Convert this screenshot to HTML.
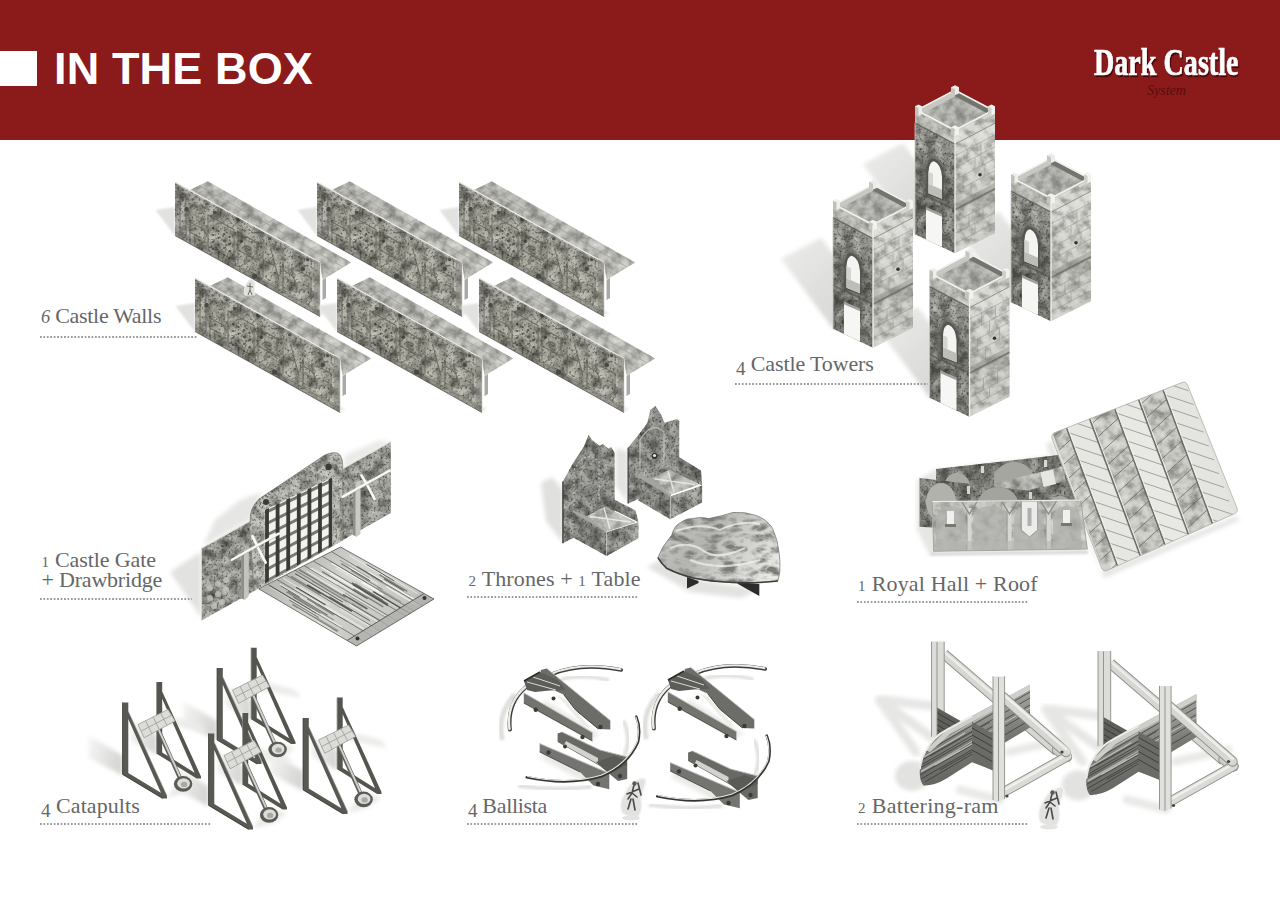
<!DOCTYPE html>
<html lang="en"><head><meta charset="utf-8"><title>In the Box - Dark Castle System</title>
<style>
html,body{margin:0;padding:0;background:#fff;}
body{width:1280px;height:905px;position:relative;overflow:hidden;font-family:"Liberation Serif",serif;}
#hdr{position:absolute;left:0;top:0;width:1280px;height:140px;background:#8b1a1a;}
#sq{position:absolute;left:0;top:51px;width:37px;height:35px;background:#fff;}
#ttl{position:absolute;left:54px;top:44px;font-family:"Liberation Sans",sans-serif;font-weight:bold;font-size:45px;line-height:50px;color:#fff;letter-spacing:0.15px;white-space:nowrap;}
#logo{position:absolute;left:1094px;top:40px;font-family:"Liberation Serif",serif;font-weight:bold;font-size:38px;line-height:44px;color:#fff;white-space:nowrap;text-shadow:1.5px 2px 1px #3a0808;-webkit-text-stroke:0.7px #fff;transform-origin:0 0;transform:scaleX(0.74);}
#sys{position:absolute;left:1147px;top:83px;font-family:"Liberation Serif",serif;font-style:italic;font-size:14px;line-height:16px;color:#560e0e;white-space:nowrap;}
.lab{position:absolute;font-size:22px;line-height:26px;color:#666;white-space:nowrap;}
.d1,.d2{font-size:15px;letter-spacing:0.5px;}
.d4{font-size:19px;position:relative;top:4px;}
.d6{font-size:18.5px;font-style:italic;}
.dots{position:absolute;height:2px;background-image:radial-gradient(circle at 1px 1px,#9a9a9a 0.8px,rgba(154,154,154,0) 1.1px);background-size:3.45px 2px;background-repeat:repeat-x;}
#art{position:absolute;left:0;top:0;}
</style></head><body>
<div id="hdr"></div>
<div id="sq"></div>
<div id="ttl">IN THE BOX</div>
<div id="logo">Dark Castle</div>
<div id="sys">System</div>
<svg id="art" width="1280" height="905" viewBox="0 0 1280 905">
<defs>
<filter id="stone" x="0" y="0" width="100%" height="100%" color-interpolation-filters="sRGB">
<feTurbulence type="fractalNoise" baseFrequency="0.1" numOctaves="3" seed="3" result="n"/>
<feColorMatrix in="n" type="matrix" values="0 0 0 0 0.2  0 0 0 0 0.2  0 0 0 0 0.18  1.7 0 0 0 -0.72" result="dk"/>
<feColorMatrix in="n" type="matrix" values="0 0 0 0 0.86  0 0 0 0 0.86  0 0 0 0 0.83  -1.7 0 0 0 0.72" result="lt"/>
<feTurbulence type="fractalNoise" baseFrequency="0.42" numOctaves="2" seed="9" result="n2"/>
<feColorMatrix in="n2" type="matrix" values="0 0 0 0 0.16  0 0 0 0 0.16  0 0 0 0 0.14  2.0 0 0 0 -1.02" result="dk2"/>
<feMerge result="m"><feMergeNode in="dk"/><feMergeNode in="lt"/><feMergeNode in="dk2"/></feMerge>
<feComposite in="m" in2="SourceAlpha" operator="in" result="mm"/>
<feMerge><feMergeNode in="SourceGraphic"/><feMergeNode in="mm"/></feMerge>
</filter>
<filter id="stoneL" x="0" y="0" width="100%" height="100%" color-interpolation-filters="sRGB">
<feTurbulence type="fractalNoise" baseFrequency="0.1" numOctaves="4" seed="7" result="n"/>
<feColorMatrix in="n" type="matrix" values="0 0 0 0 0.35  0 0 0 0 0.35  0 0 0 0 0.33  1.6 0 0 0 -0.72" result="dk"/>
<feColorMatrix in="n" type="matrix" values="0 0 0 0 0.95  0 0 0 0 0.95  0 0 0 0 0.93  -1.8 0 0 0 0.78" result="lt"/>
<feMerge result="m"><feMergeNode in="dk"/><feMergeNode in="lt"/></feMerge>
<feComposite in="m" in2="SourceAlpha" operator="in" result="mm"/>
<feMerge><feMergeNode in="SourceGraphic"/><feMergeNode in="mm"/></feMerge>
</filter>
<filter id="blur2"><feGaussianBlur stdDeviation="2"/></filter>
<filter id="blur1"><feGaussianBlur stdDeviation="1"/></filter>
<filter id="blur4"><feGaussianBlur stdDeviation="4"/></filter>

<linearGradient id="gWallF" x1="0" y1="0" x2="1" y2="0.6">
<stop offset="0" stop-color="#b0b0a6"/><stop offset="0.5" stop-color="#a6a69c"/><stop offset="1" stop-color="#b2b2a8"/>
</linearGradient>
<clipPath id="cWallF"><polygon points="0,0 145,80.5 145,134.5 0,53.5"/></clipPath>
<g id="wall">
<polygon points="-19.5,28 0,25 0,54 " fill="#e2e2e0" filter="url(#blur1)"/>
<polygon points="0,53.5 145,134 150,131 8,52" fill="#e9e9e7" filter="url(#blur1)"/>
<polygon points="147.5,98 151,96 151,116 147.5,118" fill="#a9a9a5"/>
<polygon points="15,8 32.7,-0.7 176.3,80.5 147.5,97.7 145,80.5" fill="#bdbdb8" filter="url(#stoneL)"/>
<g stroke="#9c9c98" stroke-width="0.7" fill="none">
<path d="M50,9 L33,18 M75,23 L58,32 M100,37 L83,46 M125,51 L108,60 M150,65.5 L133,74.5 M24,3.5 L168,85"/>
</g>
<polygon points="0,0 145,80.5 145,134.5 0,53.5" fill="url(#gWallF)" filter="url(#stone)"/>
<g fill="none" stroke="#5c5c54" stroke-width="1.1" opacity="0.7" clip-path="url(#cWallF)">
<path d="M5,10 L5,50 L11,53.5 L11,13.5 Z M15,40 L15,62 M15,40 L30,48 L30,58 M15,50 L26,56 M33,33 L33,64 L59,78.5 L59,47.5 Z M63,50 L63,82 M63,50 L82,60.5 L82,78 L63,68 M70,63 L76,66 L76,72 L70,69 Z M88,70 L88,96 M88,78 L100,84 M96,68 L104,98 M108,80 L108,108 M108,88 L120,95 M116,86 L122,108 M126,90 L136,95.5 L136,118 M128,102 L134,105"/>
<path d="M2,4 L143,82.5 M2,51 L143,129" stroke-width="0.8" opacity="0.6"/>
</g>
<g fill="#3c3c38" opacity="0.8">
<circle cx="11.6" cy="27" r="2.3"/><circle cx="39.8" cy="30.3" r="1.6"/><circle cx="63" cy="37.8" r="1.7"/><circle cx="94.5" cy="56.8" r="1.5"/><circle cx="127.7" cy="86.7" r="2.2"/><circle cx="79.6" cy="94" r="2.6"/><circle cx="132.6" cy="77.6" r="1.6"/><circle cx="66.3" cy="59.3" r="1.8"/>
<circle cx="38" cy="46" r="1.1"/><circle cx="43.5" cy="49" r="1.1"/><circle cx="49" cy="52" r="1.1"/><circle cx="54.5" cy="55" r="1.1"/><circle cx="38" cy="53" r="1.1"/><circle cx="43.5" cy="56" r="1.1"/><circle cx="49" cy="59" r="1.1"/><circle cx="54.5" cy="62" r="1.1"/><circle cx="38" cy="60" r="1.1"/><circle cx="43.5" cy="63" r="1.1"/><circle cx="49" cy="66" r="1.1"/><circle cx="54.5" cy="69" r="1.1"/><circle cx="38" cy="67" r="1.1"/><circle cx="43.5" cy="70" r="1.1"/><circle cx="49" cy="73" r="1.1"/><circle cx="54.5" cy="76" r="1.1"/>
</g>
<polygon points="0,47 145,128 145,134.5 0,53.5" fill="#4a4a44" opacity="0.25"/>
<path d="M0,0 L145,80.5" stroke="#e8e8e4" stroke-width="1.4" fill="none"/>
<path d="M0,53.5 L145,134.5" stroke="#55554f" stroke-width="1" fill="none" opacity="0.7"/>
<path d="M145,80.5 L145,134.5" stroke="#d8d8d4" stroke-width="0.8" fill="none"/>
<polygon points="139,77.2 145,80.5 145,134.5 139,131.2" fill="#8a8a82" opacity="0.5"/>
</g>

<linearGradient id="gTwL" x1="0" y1="0" x2="0" y2="1">
<stop offset="0" stop-color="#a6a6a0"/><stop offset="0.35" stop-color="#8c8c86"/><stop offset="0.62" stop-color="#7c7c76"/><stop offset="1" stop-color="#90908a"/>
</linearGradient>
<linearGradient id="gTwR" x1="0" y1="0" x2="0" y2="1">
<stop offset="0" stop-color="#dededa"/><stop offset="0.5" stop-color="#cecec9"/><stop offset="0.6" stop-color="#b4b4af"/><stop offset="0.66" stop-color="#c6c6c1"/><stop offset="1" stop-color="#d0d0cb"/>
</linearGradient>
<linearGradient id="gTwSh" x1="1" y1="1" x2="0" y2="0">
<stop offset="0" stop-color="#d2d2d0"/><stop offset="1" stop-color="#ececea"/>
</linearGradient>
<g id="towerSh"><polygon points="-40,90.5 -92,20.5 -52,-0.5 0,69.5" fill="url(#gTwSh)" filter="url(#blur2)"/></g>
<g id="tower">
<polygon points="-39.6,-33 0,-54 39.6,-33 39.6,89 0,109 -39.6,90" fill="#b8b8b2"/>
<!-- left face -->
<polygon points="-40,-21 0,0 0,109.5 -40,90.5" fill="url(#gTwL)" filter="url(#stone)"/>
<!-- right face -->
<polygon points="0,0 40,-21 40,89.5 0,109.5" fill="url(#gTwR)" filter="url(#stoneL)"/>
<g stroke="#8a8a86" stroke-width="0.6" opacity="0.8" fill="none">
<path d="M0,12 L40,-9 M0,24 L40,3 M0,36 L40,15 M0,48 L40,27 M0,78 L40,57 M0,90 L40,69 M0,100 L40,79"/>
<path d="M12,6 L12,18 M26,-2 L26,10 M20,14 L20,26 M8,32 L8,44 M30,20 L30,32 M16,40 L16,52 M14,71 L14,83 M28,64 L28,76 M20,80 L20,90"/>
</g>
<path d="M-40,47 L0,66 L40,45" stroke="#55554f" stroke-width="1.6" fill="none" opacity="0.7"/>
<polygon points="0,60 40,39 40,47 0,68" fill="#77776f" opacity="0.35"/>
<circle cx="25" cy="31" r="1.8" fill="#333"/>
<!-- arch window -->
<path d="M-31,50 L-31,26 Q-30,12 -21.5,11.5 Q-11,15 -9.5,32 L-9.5,58 Z" fill="#4a4a44" opacity="0.45" filter="url(#blur1)"/>
<path d="M-28.5,50 L-28.5,27 Q-28,15.5 -21.5,14.5 Q-13,17 -11.5,32 L-11.5,56.5 Z" fill="#55554f"/>
<path d="M-26.5,49.5 L-26.5,28 Q-26,18 -21,17.5 Q-14,20 -13,33 L-13,55 Z" fill="#f4f4f2"/>
<polygon points="-26.5,40 -13,46 -13,55 -26.5,49.5" fill="#bdbdb9"/>
<polygon points="-26.5,28 -22,30 -22,42 -26.5,40" fill="#d4d4d0"/>
<!-- door -->
<polygon points="-29,63.5 -13,70.5 -13,103.3 -29,95.7" fill="#f6f6f4"/>
<polygon points="-29,63.5 -13,70.5 -13,73 -29,66" fill="#66665f" opacity="0.6"/>
<!-- parapet sides -->
<polygon points="-40,-33 0,-12 0,1 -40,-20" fill="#c6c6c0" filter="url(#stoneL)"/>
<polygon points="0,-12 40,-33 40,-20 0,1" fill="#d6d6d1" filter="url(#stoneL)"/>
<path d="M-40,-20.5 L0,0.5" stroke="#4e4e48" stroke-width="1.3" fill="none" opacity="0.75"/>
<path d="M0,0.5 L40,-20.5" stroke="#77776f" stroke-width="1" fill="none" opacity="0.7"/>
<!-- top -->
<polygon points="-40,-33.5 0,-12.5 40,-33.5 0,-54.5" fill="#f0f0ec"/>
<polygon points="-36,-33.5 0,-14.6 36,-33.5 0,-52.4" fill="#aeaeaa"/>
<polygon points="0,-47.4 -31.2,-31 0,-14.6 31.2,-31" fill="#b2b2ae" filter="url(#stoneL)"/>
<polygon points="-36,-33.5 0,-52.4 0,-47.4 -31.2,-31" fill="#c8c8c3"/>
<polygon points="0,-52.4 36,-33.5 31.2,-31 0,-47.4" fill="#74746e"/>
<!-- merlons -->
<polygon points="-40,-37.5 -36.5,-39.3 -33,-37.5 -33,-30 -36.5,-28.2 -40,-30" fill="#eeeeea"/>
<polygon points="-40,-37.5 -36.5,-35.7 -36.5,-28.2 -40,-30" fill="#c0c0ba"/>
<polygon points="33,-37.5 36.5,-39.3 40,-37.5 40,-30 36.5,-28.2 33,-30" fill="#f2f2ee"/>
<polygon points="33,-37.5 36.5,-35.7 36.5,-28.2 33,-30" fill="#d0d0cb"/>
<polygon points="-4,-56.5 0,-58.5 4,-56.5 4,-50.5 0,-48.5 -4,-50.5" fill="#ecece8"/>
<polygon points="-4,-56.5 0,-54.5 0,-48.5 -4,-50.5" fill="#c6c6c0"/>
<polygon points="-4,-16.5 0,-18.5 4,-16.5 4,-9.5 0,-7.5 -4,-9.5" fill="#f2f2ee"/>
<polygon points="-4,-16.5 0,-14.5 0,-7.5 -4,-9.5" fill="#c4c4be"/>
<!-- front edge -->
<path d="M0,-13 L0,109.5" stroke="#f0f0ec" stroke-width="1.3" fill="none"/>
<path d="M-40,-21 L-40,90.5" stroke="#c8c8c4" stroke-width="0.8" fill="none"/>
</g>

<linearGradient id="gBridge" x1="0" y1="0" x2="1" y2="0.55">
<stop offset="0" stop-color="#8a8a86"/><stop offset="0.18" stop-color="#b4b4b0"/><stop offset="0.5" stop-color="#d2d2ce"/><stop offset="0.85" stop-color="#c8c8c4"/><stop offset="1" stop-color="#b0b0ac"/>
</linearGradient>
<clipPath id="cBridge"><polygon points="258.6,588.8 340.5,547 434,599 356.5,646"/></clipPath>
<clipPath id="cPort"><polygon points="264.7,510 332.4,477.3 332.4,545.8 264.7,583.4"/></clipPath>

<linearGradient id="gTable" x1="0" y1="0.3" x2="1" y2="0.7">
<stop offset="0" stop-color="#c4c4c0"/><stop offset="0.35" stop-color="#b4b4b0"/><stop offset="0.6" stop-color="#cacac6"/><stop offset="1" stop-color="#e8e8e4"/>
</linearGradient>
<filter id="swirl" x="0" y="0" width="100%" height="100%">
<feTurbulence type="turbulence" baseFrequency="0.05 0.09" numOctaves="3" seed="11" result="n"/>
<feColorMatrix in="n" type="matrix" values="0 0 0 0 0  0 0 0 0 0  0 0 0 0 0  2.6 0 0 0 -0.5" result="a"/>
<feFlood flood-color="#7c7c78" result="f"/>
<feComposite in="f" in2="a" operator="in" result="spk"/>
<feComposite in="spk" in2="SourceAlpha" operator="in" result="spk2"/>
<feMerge><feMergeNode in="SourceGraphic"/><feMergeNode in="spk2"/></feMerge>
</filter>

<clipPath id="cRoof"><path d="M1055,432.5 L1182,382.5 Q1186,381 1187.5,385 L1237,508 Q1238.5,512 1234.5,513.7 L1107,570.5 Q1103,572 1101.5,568 L1052,438.5 Q1050.8,434.2 1055,432.5 Z"/></clipPath>
<clipPath id="cP2"><polygon points="919.6,478 1075,496 1080,503 932.3,503 932.3,527.5 919.6,526.8"/></clipPath>
<clipPath id="cP3"><polygon points="936,469 1059,455 1075,470 1075,502 936,502"/></clipPath>
<clipPath id="cPF"><polygon points="932.3,501.6 1080.7,500.1 1087.4,549.1 933.7,551.3"/></clipPath>

<linearGradient id="gCatSh" x1="1" y1="0.6" x2="0" y2="0.3"><stop offset="0" stop-color="#d4d4d2"/><stop offset="1" stop-color="#f4f4f3"/></linearGradient>
<g id="catSh">
<!-- shadows -->
<polygon points="0,53 0,73 -34,55 -34,33" fill="url(#gCatSh)" filter="url(#blur2)"/>
<polygon points="34,32 34,52 8,38 8,17" fill="url(#gCatSh)" filter="url(#blur2)"/>
<polygon points="40,12 78,22 84,30 44,22" fill="#ebebe9" filter="url(#blur2)"/>
<polygon points="44,95 60,74 78,80 64,90" fill="#e8e8e6" filter="url(#blur2)"/>
</g>
<g id="cat">
<!-- back frame -->
<path d="M34,-20.3 L39.6,-20.3 L39.6,-11 L78.4,74 L78.4,76 L74,76 L34,51.3 Z M39.6,-3.6 L39.6,50 L72,70.3 Z" fill="#55554f" fill-rule="evenodd"/>
<path d="M34,-20.3 L34,51.3" stroke="#8a8a86" stroke-width="0.8"/>
<!-- arm -->
<path d="M35.5,27 L58,77" stroke="#5e5e5a" stroke-width="4.2" stroke-linecap="round"/>
<path d="M36,27 L58.4,76.5" stroke="#d0d0cc" stroke-width="2" stroke-linecap="round"/>
<ellipse cx="60.5" cy="81.5" rx="9.2" ry="7.8" fill="#5a5a56"/>
<ellipse cx="61" cy="81" rx="6.4" ry="5.2" fill="#dcdcd8"/>
<ellipse cx="61.5" cy="82" rx="3.2" ry="2.6" fill="#a8a8a4"/>
<!-- lattice -->
<polygon points="15.4,22.1 45.4,7.1 52.5,18.6 21.6,35.4" fill="#dcdcd8"/>
<g stroke="#9a9a96" stroke-width="0.8" fill="none">
<path d="M15.4,22.1 L45.4,7.1 L52.5,18.6 L21.6,35.4 Z M18.5,28.7 L49,12.8 M23,18.3 L29.2,31.3 M30.5,14.5 L36.8,27.2 M38,10.8 L44.5,23"/>
</g>
<!-- front frame -->
<path d="M0,0 L5.7,0 L5.7,9 L44.4,93.7 L44.4,96 L40,96 L0,72 Z M5.7,16.7 L5.7,70.6 L38.3,90.4 Z" fill="#595953" fill-rule="evenodd"/>
<path d="M0,0 L0,72 L40,96" stroke="#2e2e2c" stroke-width="0.8" fill="none"/>
<path d="M5.7,9 L44.4,93.7" stroke="#8e8e8a" stroke-width="0.7" fill="none"/>
</g>

<g id="balA">
<!-- shadow arcs -->
<path d="M513.9,695.7 Q497,715 502,738" fill="none" stroke="#dededc" stroke-width="5" filter="url(#blur1)" stroke-linecap="round"/>
<path d="M562,679 Q585,674 608,680" fill="none" stroke="#e0e0de" stroke-width="3.5" filter="url(#blur1)" stroke-linecap="round"/>
<polygon points="545,700 600,735 590,740 540,708" fill="#e8e8e6" filter="url(#blur2)"/>
<!-- bow limbs -->
<path d="M551,674.5 Q580,662 621.3,669.9" fill="none" stroke="#3c3c3a" stroke-width="3.6" stroke-linecap="round"/>
<path d="M551,674 Q580,661.5 620.5,669.2" fill="none" stroke="#ecece8" stroke-width="2" stroke-linecap="round"/>
<path d="M526,687 Q507,703 509.9,729.6" fill="none" stroke="#3c3c3a" stroke-width="4" stroke-linecap="round"/>
<path d="M526,686.5 Q506,703 509.5,729" fill="none" stroke="#ecece8" stroke-width="2.4" stroke-linecap="round"/>
<!-- back rail -->
<polygon points="540.7,669.9 546.7,668.5 610.3,720.6 610.3,729.6 598.4,729 575.5,710 563.6,694.5 555.6,691 540.7,680" fill="#6c6c68"/>
<path d="M546.7,668.5 L610.3,720.6" stroke="#b4b4b0" stroke-width="1"/><path d="M598.4,729 L575.5,710 L563.6,694.5" stroke="#2e2e2c" stroke-width="0.8" fill="none"/>
<!-- center light channel -->
<polygon points="556,694 566,700 590,727 585,727" fill="#ecece9"/>
<!-- front rail -->
<polygon points="523.8,692.8 592.4,732.5 592.4,741 523.8,703" fill="#74746f"/>
<path d="M523.8,692.8 L592.4,732.5" stroke="#c0c0bc" stroke-width="1"/>
<path d="M523.8,703 L592.4,741" stroke="#3a3a38" stroke-width="0.8"/>
<!-- mechanism -->
<polygon points="523.8,680.5 539.7,671.9 557.6,680 566,690 549.7,690.5 535,692 527,690" fill="#5c5c58"/>
<path d="M527,682 L556,690 M533,677 L560,686" stroke="#d8d8d4" stroke-width="1"/>
<path d="M524,681 L540,672" stroke="#2c2c2a" stroke-width="1.5"/>
<g fill="#3a3a38"><circle cx="535.7" cy="709.7" r="2.2"/><circle cx="582.5" cy="737" r="2.2"/><circle cx="553.5" cy="698.5" r="2"/><circle cx="600.4" cy="727" r="2.2"/></g>
</g>
<g id="balB">
<path d="M519.8,786 Q555,791 590,787" fill="none" stroke="#e0e0de" stroke-width="4" filter="url(#blur1)" stroke-linecap="round"/>
<path d="M624,722 Q632,740 624,756" fill="none" stroke="#e0e0de" stroke-width="4" filter="url(#blur1)" stroke-linecap="round"/>
<polygon points="545,752 590,776 585,782 540,758" fill="#e8e8e6" filter="url(#blur2)"/>
<!-- back rail -->
<polygon points="557.6,733.5 562,732 600,750 627.2,757 627.2,779 618,781 600,766 557.6,742" fill="#686864"/>
<path d="M562,732 L600,750 L627.2,757" stroke="#b8b8b4" stroke-width="1" fill="none"/>
<polygon points="564,745 598,764 598,758 566,741" fill="#d2d2ce"/>
<!-- front rail -->
<polygon points="539.7,743.5 609.3,773.3 609.3,789.2 593.4,785.5 580,772 539.7,752" fill="#747470"/>
<path d="M539.7,743.5 L609.3,773.3" stroke="#c4c4c0" stroke-width="1"/>
<path d="M539.7,752 L580,772" stroke="#3a3a38" stroke-width="0.8"/>
<polygon points="596,762 614,756 627,761 627,765 609.3,773.3" fill="#5a5a56"/>
<g fill="#3a3a38"><circle cx="548.5" cy="752.5" r="2.2"/><circle cx="565" cy="746.5" r="2"/><circle cx="598" cy="784" r="2.2"/><circle cx="620" cy="776" r="2.2"/></g>
<!-- bow -->
<path d="M526.8,777.3 Q568,786 601.4,776.3 Q628,765 638,742 Q641,728 636.2,716.6" fill="none" stroke="#343432" stroke-width="2.6" stroke-linecap="round"/>
<path d="M527.5,776.5 Q568,785 601,775.3 Q627.5,764 637.3,741.5 Q640,728 635.8,717" fill="none" stroke="#e8e8e4" stroke-width="1.1" stroke-linecap="round"/>
</g>
<g id="meeple">
<path d="M-9,16 Q-13,6 -6,-4 Q-2,-14 6,-17 Q14,-22 15,-15 Q12,-6 10,2 Q12,12 8,19 Q0,22 -9,16 Z" fill="#e2e2e0" stroke="#f4f4f2" stroke-width="1.5"/>
<ellipse cx="0" cy="21" rx="9" ry="2.5" fill="#e4e4e2"/>
<path d="M3,-12 L1,-4 L-3,2 M1,-4 L6,0 M0,2 L-3,12 M2,2 L4,13 M-4,-3 L8,-8 M7,-14 L10,-2" stroke="#4a4a46" stroke-width="1.6" fill="none" stroke-linecap="round"/>
<circle cx="3.5" cy="-13.5" r="2.2" fill="#5a5a56"/>
</g>

<linearGradient id="gRamLog" x1="0.3" y1="0" x2="0.6" y2="1">
<stop offset="0" stop-color="#b0b0ac"/><stop offset="0.35" stop-color="#989894"/><stop offset="0.6" stop-color="#767672"/><stop offset="1" stop-color="#5c5c58"/>
</linearGradient>
<clipPath id="cRamA"><path d="M919.9,769.2 Q921,758 925.7,750.6 Q934,736 946.6,729.8 L1030,684.5 L1030,727.5 L972,762.3 L946.6,778.5 Q934,786 923.4,785.5 Q919,780 919.9,769.2 Z"/></clipPath>
<g id="ram">
<!-- shadows -->
<path d="M879.3,699.6 L932.6,738 M879.3,699.6 L916,752 M885,700 L932,706" stroke="#e6e6e4" stroke-width="9" fill="none" filter="url(#blur2)" stroke-linecap="round"/>
<ellipse cx="912" cy="776" rx="17" ry="15" fill="#e2e2e0" filter="url(#blur2)"/>
<path d="M1009,752 L1062,740 M960,790 L1000,800" stroke="#e8e8e6" stroke-width="8" fill="none" filter="url(#blur2)" stroke-linecap="round"/>
<!-- back frame -->
<path d="M944,654 L1057,751" stroke="#8e8e8a" stroke-width="10.4" fill="none"/>
<path d="M944,654 L1057,751" stroke="#d6d6d2" stroke-width="8.6" fill="none"/>
<path d="M944,652 L1057,749" stroke="#ecece8" stroke-width="2.5" fill="none"/>
<polygon points="931.5,641.6 944.2,641.6 944.2,740 931.5,736.7" fill="#dcdcd8"/>
<path d="M931.5,641.6 L931.5,736.7 M937,642 L937,738 M944.2,641.6 L944.2,740" stroke="#8c8c88" stroke-width="0.9"/>
<!-- cross plank B (back part) -->
<polygon points="937.3,707.7 972,727.5 995.3,740 995.3,771.5 969.8,760 937.3,734.4" fill="#5e5e5a"/>
<path d="M937.3,713 L995.3,746 M937.3,719 L995.3,752 M937.3,725 L995.3,758 M937.3,730 L995.3,764" stroke="#2e2e2c" stroke-width="0.9" opacity="0.8"/>
<!-- ram log A -->
<path d="M919.9,769.2 Q921,758 925.7,750.6 Q934,736 946.6,729.8 L1030,684.5 L1030,727.5 L972,762.3 L946.6,778.5 Q934,786 923.4,785.5 Q919,780 919.9,769.2 Z" fill="url(#gRamLog)"/>
<g clip-path="url(#cRamA)">
<path d="M920,775 L1030,712 M920,768 L1030,705 M922,760 L1030,698 M926,752 L1030,692 M925,782 L1030,720 M921,779 L975,748 M923,764 L980,731 M930,756 L990,722 M940,770 L1000,736" stroke="#2c2c2a" stroke-width="0.9" opacity="0.7"/>
<path d="M921,772 L960,750 M924,757 L965,733 M935,765 L972,744" stroke="#e8e8e4" stroke-width="1.2" opacity="0.6"/>
<path d="M921,771 L1030,708 M928,749 L1030,689" stroke="#e0e0dc" stroke-width="0.9" opacity="0.7"/>
<polygon points="925.7,750.6 946.6,729.8 1030,684.5 1030,690 950,734 930,752" fill="#d4d4d0" opacity="0.9"/>
</g>
<path d="M919.9,769.2 Q921,758 925.7,750.6 Q934,736 946.6,729.8 L972,716" fill="none" stroke="#ecece8" stroke-width="2"/>
<polygon points="972,722 995,735 995,771 972,762.3" fill="#6a6a66"/>
<path d="M972,728 L995,741 M972,735 L995,748 M972,742 L995,755 M972,750 L995,763" stroke="#2e2e2c" stroke-width="0.9" opacity="0.8"/>
<!-- front frame -->
<path d="M1057,750 L1067,757" stroke="#8e8e8a" stroke-width="10.4" fill="none" stroke-linecap="round"/>
<path d="M1057,750 L1067,757" stroke="#cecec9" stroke-width="8.6" fill="none" stroke-linecap="round"/>
<path d="M1003,792.5 L1067,756.5" stroke="#8e8e8a" stroke-width="10" fill="none" stroke-linecap="round"/>
<path d="M1003,792.5 L1067,756.5" stroke="#dadad6" stroke-width="8.2" fill="none" stroke-linecap="round"/>
<path d="M1003,790.5 L1066,755" stroke="#f0f0ec" stroke-width="2.5" fill="none"/>
<path d="M1003,697 L1066,752" stroke="#8e8e8a" stroke-width="10.4" fill="none" stroke-linecap="round"/>
<path d="M1003,697 L1066,752" stroke="#d6d6d2" stroke-width="8.6" fill="none" stroke-linecap="round"/>
<path d="M1004,695 L1067,750" stroke="#eeeeea" stroke-width="2.5" fill="none"/>
<polygon points="993,676.4 1004.6,676.4 1004.6,799 998,802 993,800" fill="#e0e0dc"/>
<path d="M993,676.4 L993,800 M998.5,677 L998.5,801 M1004.6,676.4 L1004.6,799" stroke="#8c8c88" stroke-width="0.9"/>
<circle cx="1007" cy="796" r="1.6" fill="#444"/><circle cx="1062" cy="752" r="1.6" fill="#444"/>
</g>

</defs>
<use href="#wall" x="175" y="182"/><use href="#wall" x="317" y="182"/><use href="#wall" x="459" y="182"/><use href="#wall" x="195" y="278"/><use href="#wall" x="337" y="278"/><use href="#wall" x="479" y="278"/><g transform="translate(250,289)"><path d="M-5,6 Q-7,-2 -2,-8 Q3,-12 5,-6 Q4,0 5,6 Z" fill="#e0e0dc" stroke="#f2f2ee" stroke-width="0.8"/><path d="M0,-6 L0,1 L-2,6 M0,1 L2,6 M-3,-3 L3,-2" stroke="#6a6a66" stroke-width="1" fill="none"/></g><use href="#towerSh" x="955" y="143.7"/><use href="#towerSh" x="873" y="238.2"/><use href="#towerSh" x="1051" y="211.7"/><use href="#towerSh" x="969.5" y="307.2"/><use href="#tower" x="955" y="143.7"/><use href="#tower" x="873" y="238.2"/><use href="#tower" x="1051" y="211.7"/><use href="#tower" x="969.5" y="307.2"/><g id="gate"><polygon points="201.4,552 188,560 170,572 201.4,618" fill="#e2e2e0" filter="url(#blur2)"/><polygon points="203,546 250,520 262,492 240,500 215,520" fill="#e6e6e4" filter="url(#blur2)"/><polygon points="343,470 390,443 380,440 345,455" fill="#eaeae8" filter="url(#blur2)"/><polygon points="258.6,588.8 340.5,547 434,599 356.5,646" fill="url(#gBridge)"/><g clip-path="url(#cBridge)"><line x1="295.3" y1="610.0" x2="336.0" y2="634.3" stroke="#ffffff" stroke-width="0.7" opacity="0.75"/><line x1="351.1" y1="595.4" x2="392.9" y2="620.3" stroke="#ffffff" stroke-width="0.7" opacity="0.75"/><line x1="316.0" y1="617.2" x2="338.6" y2="630.6" stroke="#8a8a86" stroke-width="0.9" opacity="0.75"/><line x1="329.2" y1="577.2" x2="351.5" y2="590.4" stroke="#ffffff" stroke-width="0.7" opacity="0.75"/><line x1="310.9" y1="609.0" x2="342.0" y2="627.5" stroke="#f6f6f4" stroke-width="1.5" opacity="0.75"/><line x1="321.1" y1="567.1" x2="363.5" y2="592.4" stroke="#f6f6f4" stroke-width="1.5" opacity="0.75"/><line x1="280.6" y1="585.7" x2="299.9" y2="597.2" stroke="#3c3c3a" stroke-width="0.9" opacity="0.75"/><line x1="361.3" y1="585.9" x2="408.4" y2="614.0" stroke="#f6f6f4" stroke-width="0.9" opacity="0.75"/><line x1="294.7" y1="588.9" x2="341.8" y2="617.0" stroke="#ffffff" stroke-width="0.9" opacity="0.75"/><line x1="331.7" y1="563.1" x2="379.1" y2="591.3" stroke="#ffffff" stroke-width="1.5" opacity="0.75"/><line x1="299.9" y1="586.9" x2="329.6" y2="604.6" stroke="#f6f6f4" stroke-width="0.9" opacity="0.75"/><line x1="341.1" y1="563.6" x2="370.1" y2="580.8" stroke="#3c3c3a" stroke-width="1.1" opacity="0.75"/><line x1="291.1" y1="576.4" x2="320.7" y2="594.1" stroke="#6a6a66" stroke-width="1.5" opacity="0.75"/><line x1="370.9" y1="576.1" x2="395.5" y2="590.8" stroke="#8a8a86" stroke-width="0.9" opacity="0.75"/><line x1="295.2" y1="573.7" x2="342.8" y2="602.1" stroke="#3c3c3a" stroke-width="1.1" opacity="0.75"/><line x1="384.2" y1="578.8" x2="404.0" y2="590.6" stroke="#2a2a28" stroke-width="1.1" opacity="0.75"/><line x1="318.4" y1="582.4" x2="362.1" y2="608.4" stroke="#8a8a86" stroke-width="0.7" opacity="0.75"/><line x1="380.9" y1="571.7" x2="418.3" y2="594.0" stroke="#ffffff" stroke-width="0.7" opacity="0.75"/><line x1="345.1" y1="593.1" x2="391.3" y2="620.6" stroke="#8a8a86" stroke-width="1.1" opacity="0.75"/><line x1="292.4" y1="604.4" x2="337.5" y2="631.3" stroke="#6a6a66" stroke-width="1.5" opacity="0.75"/><line x1="312.2" y1="568.3" x2="353.2" y2="592.8" stroke="#ececea" stroke-width="1.1" opacity="0.75"/><line x1="269.5" y1="585.6" x2="316.2" y2="613.4" stroke="#4e4e4c" stroke-width="0.9" opacity="0.75"/><line x1="330.4" y1="574.0" x2="367.4" y2="596.0" stroke="#f6f6f4" stroke-width="1.1" opacity="0.75"/><line x1="288.0" y1="591.4" x2="327.7" y2="615.1" stroke="#4e4e4c" stroke-width="1.1" opacity="0.75"/><line x1="355.1" y1="583.5" x2="383.2" y2="600.3" stroke="#4e4e4c" stroke-width="0.9" opacity="0.75"/><line x1="318.5" y1="604.4" x2="346.7" y2="621.3" stroke="#8a8a86" stroke-width="0.9" opacity="0.75"/><line x1="361.7" y1="582.3" x2="383.4" y2="595.2" stroke="#ffffff" stroke-width="1.5" opacity="0.75"/><line x1="283.3" y1="578.3" x2="324.0" y2="602.5" stroke="#ececea" stroke-width="1.1" opacity="0.75"/><line x1="351.1" y1="570.8" x2="382.6" y2="589.6" stroke="#3c3c3a" stroke-width="0.7" opacity="0.75"/><line x1="332.5" y1="602.4" x2="361.5" y2="619.7" stroke="#ffffff" stroke-width="0.9" opacity="0.75"/><line x1="386.2" y1="586.5" x2="421.8" y2="607.8" stroke="#f6f6f4" stroke-width="1.5" opacity="0.75"/><line x1="296.9" y1="576.1" x2="328.8" y2="595.1" stroke="#f6f6f4" stroke-width="0.7" opacity="0.75"/><line x1="383.0" y1="579.4" x2="410.8" y2="596.0" stroke="#8a8a86" stroke-width="0.9" opacity="0.75"/><line x1="352.0" y1="603.7" x2="384.4" y2="623.0" stroke="#8a8a86" stroke-width="1.1" opacity="0.75"/><line x1="366.5" y1="564.4" x2="394.2" y2="580.9" stroke="#2a2a28" stroke-width="0.9" opacity="0.75"/><line x1="306.7" y1="571.5" x2="349.8" y2="597.2" stroke="#ffffff" stroke-width="0.9" opacity="0.75"/><line x1="297.8" y1="608.9" x2="331.6" y2="629.1" stroke="#ececea" stroke-width="0.9" opacity="0.75"/><line x1="310.0" y1="568.3" x2="337.2" y2="584.5" stroke="#ffffff" stroke-width="1.1" opacity="0.75"/><line x1="269.9" y1="587.1" x2="312.2" y2="612.3" stroke="#ececea" stroke-width="0.7" opacity="0.75"/><line x1="353.5" y1="589.0" x2="383.3" y2="606.8" stroke="#6a6a66" stroke-width="1.5" opacity="0.75"/><line x1="286.2" y1="591.7" x2="333.9" y2="620.1" stroke="#6a6a66" stroke-width="1.1" opacity="0.75"/><line x1="351.8" y1="582.9" x2="387.9" y2="604.4" stroke="#3c3c3a" stroke-width="1.5" opacity="0.75"/><line x1="307.2" y1="599.0" x2="333.8" y2="614.8" stroke="#6a6a66" stroke-width="1.5" opacity="0.75"/><line x1="335.6" y1="568.0" x2="369.4" y2="588.1" stroke="#ececea" stroke-width="1.1" opacity="0.75"/><line x1="296.1" y1="587.2" x2="325.4" y2="604.7" stroke="#2a2a28" stroke-width="1.1" opacity="0.75"/><line x1="376.9" y1="587.5" x2="401.2" y2="602.0" stroke="#8a8a86" stroke-width="1.1" opacity="0.75"/><line x1="340.3" y1="608.4" x2="374.6" y2="628.8" stroke="#ffffff" stroke-width="0.9" opacity="0.75"/><line x1="339.7" y1="560.1" x2="369.5" y2="577.9" stroke="#8a8a86" stroke-width="1.1" opacity="0.75"/><line x1="329.6" y1="596.8" x2="369.8" y2="620.7" stroke="#2a2a28" stroke-width="0.9" opacity="0.75"/><line x1="368.6" y1="572.2" x2="415.0" y2="599.8" stroke="#ffffff" stroke-width="1.5" opacity="0.75"/><line x1="311.8" y1="581.0" x2="347.1" y2="602.1" stroke="#6a6a66" stroke-width="0.7" opacity="0.75"/><line x1="348.9" y1="555.2" x2="385.2" y2="576.9" stroke="#f6f6f4" stroke-width="0.9" opacity="0.75"/><line x1="342.9" y1="594.4" x2="367.4" y2="609.0" stroke="#3c3c3a" stroke-width="1.5" opacity="0.75"/><line x1="317.1" y1="621.7" x2="341.2" y2="636.1" stroke="#f6f6f4" stroke-width="0.7" opacity="0.75"/><line x1="322.0" y1="576.8" x2="346.6" y2="591.4" stroke="#ffffff" stroke-width="0.7" opacity="0.75"/><line x1="289.1" y1="599.9" x2="318.6" y2="617.4" stroke="#4e4e4c" stroke-width="0.9" opacity="0.75"/><line x1="322.1" y1="571.6" x2="367.5" y2="598.7" stroke="#3c3c3a" stroke-width="1.1" opacity="0.75"/><line x1="293.2" y1="597.1" x2="320.5" y2="613.4" stroke="#2a2a28" stroke-width="0.7" opacity="0.75"/><line x1="352.9" y1="584.8" x2="388.0" y2="605.7" stroke="#3c3c3a" stroke-width="1.1" opacity="0.75"/><line x1="279.9" y1="584.0" x2="315.0" y2="604.9" stroke="#ececea" stroke-width="1.1" opacity="0.75"/><line x1="373.2" y1="591.7" x2="416.2" y2="617.3" stroke="#2a2a28" stroke-width="1.5" opacity="0.75"/><line x1="326.1" y1="606.4" x2="364.0" y2="629.0" stroke="#ececea" stroke-width="1.5" opacity="0.75"/><line x1="330.6" y1="561.2" x2="367.1" y2="582.9" stroke="#8a8a86" stroke-width="0.9" opacity="0.75"/><line x1="339.8" y1="609.4" x2="376.7" y2="631.4" stroke="#ececea" stroke-width="0.7" opacity="0.75"/><line x1="349.2" y1="567.0" x2="377.9" y2="584.2" stroke="#ffffff" stroke-width="0.9" opacity="0.75"/><line x1="307.3" y1="584.8" x2="352.0" y2="611.4" stroke="#2a2a28" stroke-width="1.5" opacity="0.75"/><line x1="356.7" y1="566.4" x2="382.6" y2="581.8" stroke="#6a6a66" stroke-width="1.5" opacity="0.75"/><line x1="349.4" y1="604.7" x2="379.7" y2="622.8" stroke="#f6f6f4" stroke-width="1.1" opacity="0.75"/><line x1="379.3" y1="574.7" x2="407.3" y2="591.3" stroke="#6a6a66" stroke-width="1.5" opacity="0.75"/><line x1="298.9" y1="569.5" x2="345.6" y2="597.3" stroke="#6a6a66" stroke-width="1.5" opacity="0.75"/><line x1="267.7" y1="584.2" x2="364.2" y2="641.7" stroke="#4a4a48" stroke-width="0.8" opacity="0.8"/><line x1="276.8" y1="579.5" x2="373.3" y2="637.0" stroke="#4a4a48" stroke-width="0.8" opacity="0.8"/><line x1="285.9" y1="574.9" x2="382.4" y2="632.4" stroke="#4a4a48" stroke-width="0.8" opacity="0.8"/><line x1="295.0" y1="570.2" x2="391.5" y2="627.7" stroke="#4a4a48" stroke-width="0.8" opacity="0.8"/><line x1="304.1" y1="565.6" x2="400.6" y2="623.1" stroke="#4a4a48" stroke-width="0.8" opacity="0.8"/><line x1="313.2" y1="560.9" x2="409.7" y2="618.4" stroke="#4a4a48" stroke-width="0.8" opacity="0.8"/><line x1="322.3" y1="556.3" x2="418.8" y2="613.8" stroke="#4a4a48" stroke-width="0.8" opacity="0.8"/><line x1="331.4" y1="551.6" x2="427.9" y2="609.1" stroke="#4a4a48" stroke-width="0.8" opacity="0.8"/><polygon points="424,593.5 434,599 356.5,646 347,640.5" fill="#b0b0ac" opacity="0.8"/><line x1="424" y1="593.5" x2="347" y2="640.5" stroke="#444" stroke-width="0.8"/></g><polygon points="258.6,588.8 340.5,547 434,599 356.5,646" fill="none" stroke="#55554f" stroke-width="0.8"/><circle cx="424.5" cy="598" r="2" fill="#333"/><circle cx="357.5" cy="638.5" r="2" fill="#333"/><polygon points="201.4,548.2 256,517.5 256,590 201.4,620.6" fill="#a9a9a3" filter="url(#stone)"/><polygon points="342,469 390.8,441.6 390.8,513 342,540.5" fill="#a9a9a3" filter="url(#stone)"/><path d="M201.4,548.2 L252,519.7 M342,469 L390.8,441.6" stroke="#e6e6e2" stroke-width="1.2" fill="none"/><path d="M201.4,548.2 L201.4,620.6" stroke="#dadad6" stroke-width="1" fill="none"/><g fill="#c4c4be" opacity="0.8"><circle cx="210" cy="588" r="3"/><circle cx="218" cy="584" r="3"/><circle cx="226" cy="580" r="3"/><circle cx="210" cy="598" r="3"/><circle cx="218" cy="594" r="3"/><circle cx="226" cy="590" r="3"/><circle cx="214" cy="606" r="3"/><circle cx="222" cy="602" r="3"/></g><path d="M254,591 L249.7,529 L250.5,514 Q253,503 262,497 L324,455.5 Q336,450 340,455 Q343,459 342.7,466 L342.7,540.5 Z" fill="#bebeb8" filter="url(#stone)"/><path d="M254,591 L249.7,529 L250.5,514 Q253,503 262,497 L324,455.5 Q336,450 340,455 Q343,459 342.7,466 L342.7,540.5" fill="none" stroke="#77776f" stroke-width="1" opacity="0.7"/><path d="M259,500 L325,458" stroke="#5a5a54" stroke-width="2.5" opacity="0.5" stroke-dasharray="2 1.5"/><polygon points="264.7,510 332.4,477.3 332.4,545.8 264.7,583.4" fill="#f2f2f0"/><g clip-path="url(#cPort)"><line x1="264.7" y1="513.0" x2="332.4" y2="480.1" stroke="#77776f" stroke-width="3"/><line x1="264.7" y1="524.5" x2="332.4" y2="490.9" stroke="#77776f" stroke-width="3"/><line x1="264.7" y1="536.0" x2="332.4" y2="501.7" stroke="#77776f" stroke-width="3"/><line x1="264.7" y1="547.5" x2="332.4" y2="512.5" stroke="#77776f" stroke-width="3"/><line x1="264.7" y1="559.0" x2="332.4" y2="523.4" stroke="#77776f" stroke-width="3"/><line x1="264.7" y1="570.5" x2="332.4" y2="534.2" stroke="#77776f" stroke-width="3"/><line x1="264.7" y1="582.0" x2="332.4" y2="545.0" stroke="#77776f" stroke-width="3"/><line x1="267.0" y1="506.9" x2="267.0" y2="584.9" stroke="#3a3a36" stroke-width="3.8"/><line x1="277.6" y1="501.8" x2="277.6" y2="579.8" stroke="#3a3a36" stroke-width="3.8"/><line x1="288.2" y1="496.6" x2="288.2" y2="574.6" stroke="#3a3a36" stroke-width="3.8"/><line x1="298.8" y1="491.5" x2="298.8" y2="569.5" stroke="#3a3a36" stroke-width="3.8"/><line x1="309.4" y1="486.4" x2="309.4" y2="564.4" stroke="#3a3a36" stroke-width="3.8"/><line x1="320.0" y1="481.3" x2="320.0" y2="559.3" stroke="#3a3a36" stroke-width="3.8"/><line x1="330.6" y1="476.2" x2="330.6" y2="554.2" stroke="#3a3a36" stroke-width="3.8"/></g><circle cx="266" cy="502" r="3" fill="#3a3a36"/><circle cx="328.5" cy="467" r="3.2" fill="#3a3a36"/><polygon points="241.3,552 248.8,548 248.8,596 245,600 241.3,598.4" fill="#c4c4be"/><polygon points="241.3,552 244,550.5 244,599 241.3,598.4" fill="#8e8e88"/><polygon points="353,484 360.5,480 360.5,534 356.5,537 353,535" fill="#cacac4"/><polygon points="353,484 355.5,482.7 355.5,536 353,535" fill="#909088"/><path d="M231.9,559.9 L278.8,533.6 M252.5,536.4 Q258,548 265.7,562.7 M342.7,497 L389.7,470.7 M361.5,475.4 Q368,486 374.6,498.9" stroke="#f8f8f4" stroke-width="2.6" fill="none" stroke-linecap="round"/><path d="M231.9,561.4 L278.8,535.1 M342.7,498.5 L389.7,472.2" stroke="#6a6a64" stroke-width="0.6" fill="none" opacity="0.6"/></g><g id="thrones"><polygon points="563,543 546,521 541,483 552,477 563,490" fill="#e0e0de" filter="url(#blur2)"/><polygon points="628,503 616,486 616,448 628,452" fill="#e2e2e0" filter="url(#blur2)"/><polygon points="647,567 660,560 700,580 760,590 740,598 690,592" fill="#e2e2e0" filter="url(#blur2)"/><polygon points="628.1,503.4 628.1,447.7 639.4,433.8 647.4,422.8 650.4,409.9 655.4,405.9 661.3,414.9 664.3,422.8 677.2,418.9 679.2,420.9 679.2,478 640,498" fill="#9a9a96" filter="url(#stone)"/><path d="M628.1,503.4 L628.1,447.7" stroke="#3c3c3a" stroke-width="1.2"/><path d="M640,470 L640,440 Q652,420 664,432 L664,462" stroke="#c4c4c0" stroke-width="1.2" fill="none" opacity="0.8"/><circle cx="654.5" cy="456" r="3" fill="#2e2e2c"/><circle cx="654.5" cy="455.5" r="1.6" fill="#e8e8e4"/><polygon points="677.2,456 701,470.5 702.1,485.5 679,475" fill="#8a8a86" filter="url(#stone)"/><polygon points="651.4,478.5 669.3,469.6 699.1,484.5 671.3,494.4" fill="#bcbcb8" filter="url(#stoneL)"/><path d="M655,479 L695,484.5 M668,471 L674,492" stroke="#eeeeea" stroke-width="1.4" opacity="0.8"/><polygon points="638.4,475.5 651.4,478.5 671.3,494.4 670.3,496.4 638.4,480" fill="#a4a4a0"/><polygon points="638.4,477.5 670.3,496.4 670.3,519.3 638.4,500.4" fill="#8c8c88" filter="url(#stone)"/><polygon points="670.3,496.4 702.1,485.5 702.1,502.4 670.3,519.3" fill="#9e9e9a" filter="url(#stone)"/><path d="M670.3,496.4 L670.3,519.3" stroke="#c8c8c4" stroke-width="0.8"/><polygon points="562.9,543.2 562.9,481.5 572.8,463.6 583.8,446.7 588.7,434.8 592,440 599.7,445.7 603,444 608.6,448.7 611,447 614.6,452.7 614.6,517 575,537" fill="#989894" filter="url(#stone)"/><path d="M562.9,543.2 L562.9,481.5" stroke="#3c3c3a" stroke-width="1.4"/><path d="M574,506 L574,470 Q586,448 599,462 L599,500" stroke="#c8c8c4" stroke-width="1.2" fill="none" opacity="0.8" stroke-dasharray="2 2"/><polygon points="604,494.5 635.5,510.4 638.4,522.3 606,506" fill="#868682" filter="url(#stone)"/><polygon points="586.7,516.3 604.6,506.4 635.5,522.3 607,531.5" fill="#bebeba" filter="url(#stoneL)"/><path d="M590,516.5 L631,522 M604,508 L610,529" stroke="#f0f0ec" stroke-width="1.4" opacity="0.85"/><polygon points="572.8,510.3 586.7,516.3 607,531.5 606.6,532.2 572.8,514" fill="#a6a6a2"/><polygon points="572.8,512.3 606.6,532.2 606.6,556.1 572.8,537.2" fill="#8a8a86" filter="url(#stone)"/><polygon points="606.6,532.2 638.4,522.3 638.4,538.2 606.6,556.1" fill="#9c9c98" filter="url(#stone)"/><path d="M606.6,532.2 L606.6,556.1" stroke="#c8c8c4" stroke-width="0.8"/><polygon points="687,577 698.5,581 698.5,583 687,588.5" fill="#2c2c2a"/><polygon points="736.8,582 759.3,584 759.3,596 738,584" fill="#2c2c2a"/><path d="M657.9,557.6 Q662,546 671.8,535.1 Q674,526 679.8,523.1 Q686,518 693,518.5 Q700,516.5 708.9,518.5 Q722,516 732.8,512.5 Q745,511.5 755.3,515.2 Q767,519 772.6,528.4 Q778,540 779.2,553.6 Q780.5,563 779.8,572.2 L777.9,581 Q755,583.5 732.8,582.5 Q710,581.5 693,578 Q678,574 666.5,568.2 Q660,563 657.9,557.6 Z" fill="url(#gTable)" filter="url(#swirl)"/><path d="M657.9,557.6 Q662,546 671.8,535.1 Q674,526 679.8,523.1 Q686,518 693,518.5 Q700,516.5 708.9,518.5 Q722,516 732.8,512.5 Q745,511.5 755.3,515.2 Q767,519 772.6,528.4 Q778,540 779.2,553.6 Q780.5,563 779.8,572.2 L777.9,581 Q755,583.5 732.8,582.5 Q710,581.5 693,578 Q678,574 666.5,568.2 Q660,563 657.9,557.6 Z" fill="none" stroke="#6a6a66" stroke-width="0.8" opacity="0.8"/><path d="M657.9,557.6 Q661,563 666.5,568.2 Q678,574 693,578 Q710,581.5 732.8,582.5 Q755,583.5 777.9,581" fill="none" stroke="#3e3e3c" stroke-width="1.6"/><path d="M676,531 Q700,522 720,530 Q740,520 760,524 M670,548 Q690,540 705,552 Q720,560 745,548 M690,560 Q720,572 760,560" fill="none" stroke="#f4f4f0" stroke-width="2" opacity="0.7"/></g><g id="hall"><polygon points="917,480 934,470 1050,456 1050,470 930,556 917,530" fill="#e6e6e4" filter="url(#blur2)"/><polygon points="1052,440 1102,572 1236,516 1240,520 1104,578 1046,445" fill="#e4e4e2" filter="url(#blur2)"/><polygon points="930,552 1088,550 1088,554 931,556" fill="#dcdcda" filter="url(#blur1)"/><polygon points="936,469 1059,455 1075,470 1075,502 936,502" fill="#83837e" filter="url(#stone)"/><g clip-path="url(#cP3)"><ellipse cx="957" cy="487" rx="13" ry="14" fill="#a9a9a4"/><ellipse cx="1014" cy="480" rx="20" ry="18" fill="#a6a6a1"/><rect x="981" y="466" width="3" height="7" fill="#d8d8d4"/><rect x="1044" y="460" width="3" height="7" fill="#d8d8d4"/></g><polygon points="993,484 1062,466.5 1066,481 1000,497" fill="#b4b4b0" filter="url(#stoneL)"/><polygon points="1040.5,472.5 1053,469.5 1056,484 1043.5,487" fill="#e6e6e2"/><polygon points="919.6,478 1075,496 1080,503 932.3,503 932.3,527.5 919.6,526.8" fill="#868681" filter="url(#stone)"/><g clip-path="url(#cP2)"><ellipse cx="941" cy="502" rx="15" ry="19" fill="#b2b2ad"/><ellipse cx="998" cy="506" rx="21" ry="19" fill="#a4a49f"/><ellipse cx="1060" cy="508" rx="12" ry="12" fill="#a8a8a3"/><rect x="967" y="486" width="3" height="8" fill="#d4d4d0"/><rect x="1029" y="492" width="3" height="7" fill="#d4d4d0"/></g><path d="M919.6,478 L919.6,526.8" stroke="#b8b8b4" stroke-width="1"/><g clip-path="url(#cRoof)"><rect x="1040" y="370" width="210" height="210" fill="#e2e2de"/><polygon points="1051.8,431.0 1065.7,425.6 1118.7,569.2 1104.8,574.7" fill="#cfcfca" filter="url(#stoneL)"/><polygon points="1065.7,425.6 1088.8,416.4 1141.8,560.0 1118.7,569.2" fill="#e6e6e2" /><polygon points="1088.8,416.4 1113.9,406.5 1167.0,550.1 1141.8,560.0" fill="#cbcbc6" filter="url(#stoneL)"/><polygon points="1113.9,406.5 1137.7,397.1 1190.8,540.7 1167.0,550.1" fill="#e8e8e4" /><polygon points="1137.7,397.1 1162.2,387.5 1215.2,531.1 1190.8,540.7" fill="#c9c9c4" filter="url(#stoneL)"/><polygon points="1162.2,387.5 1184.0,378.8 1237.0,522.5 1215.2,531.1" fill="#e4e4e0" /><line x1="1048.7" y1="422.6" x2="1060.6" y2="411.9" stroke="#66665f" stroke-width="0.9" opacity="0.85"/><line x1="1053.8" y1="436.5" x2="1065.7" y2="425.7" stroke="#66665f" stroke-width="0.9" opacity="0.85"/><line x1="1058.9" y1="450.3" x2="1070.8" y2="439.5" stroke="#66665f" stroke-width="0.9" opacity="0.85"/><line x1="1064.0" y1="464.1" x2="1075.9" y2="453.3" stroke="#66665f" stroke-width="0.9" opacity="0.85"/><line x1="1069.1" y1="477.9" x2="1081.0" y2="467.1" stroke="#66665f" stroke-width="0.9" opacity="0.85"/><line x1="1074.2" y1="491.7" x2="1086.1" y2="480.9" stroke="#66665f" stroke-width="0.9" opacity="0.85"/><line x1="1079.3" y1="505.5" x2="1091.2" y2="494.7" stroke="#66665f" stroke-width="0.9" opacity="0.85"/><line x1="1084.4" y1="519.3" x2="1096.3" y2="508.5" stroke="#66665f" stroke-width="0.9" opacity="0.85"/><line x1="1089.5" y1="533.1" x2="1101.4" y2="522.3" stroke="#66665f" stroke-width="0.9" opacity="0.85"/><line x1="1094.6" y1="546.9" x2="1106.5" y2="536.1" stroke="#66665f" stroke-width="0.9" opacity="0.85"/><line x1="1099.7" y1="560.7" x2="1111.6" y2="550.0" stroke="#66665f" stroke-width="0.9" opacity="0.85"/><line x1="1104.8" y1="574.6" x2="1116.7" y2="563.8" stroke="#66665f" stroke-width="0.9" opacity="0.85"/><line x1="1109.9" y1="588.4" x2="1121.8" y2="577.6" stroke="#66665f" stroke-width="0.9" opacity="0.85"/><line x1="1058.0" y1="404.8" x2="1088.3" y2="415.0" stroke="#8e8e88" stroke-width="0.9" opacity="0.85"/><line x1="1063.1" y1="418.7" x2="1093.4" y2="428.9" stroke="#8e8e88" stroke-width="0.9" opacity="0.85"/><line x1="1068.2" y1="432.5" x2="1098.5" y2="442.7" stroke="#8e8e88" stroke-width="0.9" opacity="0.85"/><line x1="1073.3" y1="446.3" x2="1103.6" y2="456.5" stroke="#8e8e88" stroke-width="0.9" opacity="0.85"/><line x1="1078.4" y1="460.1" x2="1108.7" y2="470.3" stroke="#8e8e88" stroke-width="0.9" opacity="0.85"/><line x1="1083.5" y1="473.9" x2="1113.8" y2="484.1" stroke="#8e8e88" stroke-width="0.9" opacity="0.85"/><line x1="1088.6" y1="487.7" x2="1118.9" y2="497.9" stroke="#8e8e88" stroke-width="0.9" opacity="0.85"/><line x1="1093.7" y1="501.5" x2="1124.0" y2="511.7" stroke="#8e8e88" stroke-width="0.9" opacity="0.85"/><line x1="1098.8" y1="515.3" x2="1129.1" y2="525.5" stroke="#8e8e88" stroke-width="0.9" opacity="0.85"/><line x1="1103.9" y1="529.1" x2="1134.2" y2="539.3" stroke="#8e8e88" stroke-width="0.9" opacity="0.85"/><line x1="1109.0" y1="542.9" x2="1139.3" y2="553.1" stroke="#8e8e88" stroke-width="0.9" opacity="0.85"/><line x1="1114.1" y1="556.8" x2="1144.4" y2="567.0" stroke="#8e8e88" stroke-width="0.9" opacity="0.85"/><line x1="1119.2" y1="570.6" x2="1149.5" y2="580.8" stroke="#8e8e88" stroke-width="0.9" opacity="0.85"/><line x1="1086.5" y1="410.2" x2="1108.1" y2="390.6" stroke="#66665f" stroke-width="0.9" opacity="0.85"/><line x1="1091.6" y1="424.0" x2="1113.2" y2="404.5" stroke="#66665f" stroke-width="0.9" opacity="0.85"/><line x1="1096.7" y1="437.8" x2="1118.3" y2="418.3" stroke="#66665f" stroke-width="0.9" opacity="0.85"/><line x1="1101.8" y1="451.6" x2="1123.4" y2="432.1" stroke="#66665f" stroke-width="0.9" opacity="0.85"/><line x1="1106.9" y1="465.4" x2="1128.5" y2="445.9" stroke="#66665f" stroke-width="0.9" opacity="0.85"/><line x1="1112.0" y1="479.2" x2="1133.6" y2="459.7" stroke="#66665f" stroke-width="0.9" opacity="0.85"/><line x1="1117.1" y1="493.0" x2="1138.7" y2="473.5" stroke="#66665f" stroke-width="0.9" opacity="0.85"/><line x1="1122.2" y1="506.9" x2="1143.8" y2="487.3" stroke="#66665f" stroke-width="0.9" opacity="0.85"/><line x1="1127.3" y1="520.7" x2="1148.9" y2="501.1" stroke="#66665f" stroke-width="0.9" opacity="0.85"/><line x1="1132.4" y1="534.5" x2="1154.0" y2="514.9" stroke="#66665f" stroke-width="0.9" opacity="0.85"/><line x1="1137.5" y1="548.3" x2="1159.1" y2="528.7" stroke="#66665f" stroke-width="0.9" opacity="0.85"/><line x1="1142.6" y1="562.1" x2="1164.2" y2="542.6" stroke="#66665f" stroke-width="0.9" opacity="0.85"/><line x1="1147.7" y1="575.9" x2="1169.3" y2="556.4" stroke="#66665f" stroke-width="0.9" opacity="0.85"/><line x1="1106.2" y1="385.5" x2="1137.3" y2="396.0" stroke="#8e8e88" stroke-width="0.9" opacity="0.85"/><line x1="1111.3" y1="399.3" x2="1142.4" y2="409.8" stroke="#8e8e88" stroke-width="0.9" opacity="0.85"/><line x1="1116.4" y1="413.1" x2="1147.5" y2="423.6" stroke="#8e8e88" stroke-width="0.9" opacity="0.85"/><line x1="1121.5" y1="426.9" x2="1152.6" y2="437.4" stroke="#8e8e88" stroke-width="0.9" opacity="0.85"/><line x1="1126.6" y1="440.8" x2="1157.7" y2="451.2" stroke="#8e8e88" stroke-width="0.9" opacity="0.85"/><line x1="1131.7" y1="454.6" x2="1162.8" y2="465.1" stroke="#8e8e88" stroke-width="0.9" opacity="0.85"/><line x1="1136.8" y1="468.4" x2="1167.9" y2="478.9" stroke="#8e8e88" stroke-width="0.9" opacity="0.85"/><line x1="1141.9" y1="482.2" x2="1173.0" y2="492.7" stroke="#8e8e88" stroke-width="0.9" opacity="0.85"/><line x1="1147.0" y1="496.0" x2="1178.1" y2="506.5" stroke="#8e8e88" stroke-width="0.9" opacity="0.85"/><line x1="1152.1" y1="509.8" x2="1183.2" y2="520.3" stroke="#8e8e88" stroke-width="0.9" opacity="0.85"/><line x1="1157.2" y1="523.6" x2="1188.3" y2="534.1" stroke="#8e8e88" stroke-width="0.9" opacity="0.85"/><line x1="1162.3" y1="537.4" x2="1193.4" y2="547.9" stroke="#8e8e88" stroke-width="0.9" opacity="0.85"/><line x1="1167.4" y1="551.2" x2="1198.5" y2="561.7" stroke="#8e8e88" stroke-width="0.9" opacity="0.85"/><line x1="1135.4" y1="390.7" x2="1156.4" y2="371.7" stroke="#66665f" stroke-width="0.9" opacity="0.85"/><line x1="1140.5" y1="404.6" x2="1161.5" y2="385.5" stroke="#66665f" stroke-width="0.9" opacity="0.85"/><line x1="1145.6" y1="418.4" x2="1166.6" y2="399.3" stroke="#66665f" stroke-width="0.9" opacity="0.85"/><line x1="1150.7" y1="432.2" x2="1171.7" y2="413.1" stroke="#66665f" stroke-width="0.9" opacity="0.85"/><line x1="1155.8" y1="446.0" x2="1176.8" y2="427.0" stroke="#66665f" stroke-width="0.9" opacity="0.85"/><line x1="1160.9" y1="459.8" x2="1181.9" y2="440.8" stroke="#66665f" stroke-width="0.9" opacity="0.85"/><line x1="1166.0" y1="473.6" x2="1187.0" y2="454.6" stroke="#66665f" stroke-width="0.9" opacity="0.85"/><line x1="1171.1" y1="487.4" x2="1192.1" y2="468.4" stroke="#66665f" stroke-width="0.9" opacity="0.85"/><line x1="1176.2" y1="501.2" x2="1197.2" y2="482.2" stroke="#66665f" stroke-width="0.9" opacity="0.85"/><line x1="1181.3" y1="515.0" x2="1202.3" y2="496.0" stroke="#66665f" stroke-width="0.9" opacity="0.85"/><line x1="1186.4" y1="528.8" x2="1207.4" y2="509.8" stroke="#66665f" stroke-width="0.9" opacity="0.85"/><line x1="1191.5" y1="542.7" x2="1212.5" y2="523.6" stroke="#66665f" stroke-width="0.9" opacity="0.85"/><line x1="1196.6" y1="556.5" x2="1217.6" y2="537.4" stroke="#66665f" stroke-width="0.9" opacity="0.85"/><line x1="1154.7" y1="367.3" x2="1183.3" y2="376.9" stroke="#8e8e88" stroke-width="0.9" opacity="0.85"/><line x1="1159.8" y1="381.1" x2="1188.4" y2="390.7" stroke="#8e8e88" stroke-width="0.9" opacity="0.85"/><line x1="1164.9" y1="394.9" x2="1193.5" y2="404.5" stroke="#8e8e88" stroke-width="0.9" opacity="0.85"/><line x1="1170.0" y1="408.7" x2="1198.6" y2="418.3" stroke="#8e8e88" stroke-width="0.9" opacity="0.85"/><line x1="1175.1" y1="422.5" x2="1203.7" y2="432.1" stroke="#8e8e88" stroke-width="0.9" opacity="0.85"/><line x1="1180.2" y1="436.3" x2="1208.8" y2="446.0" stroke="#8e8e88" stroke-width="0.9" opacity="0.85"/><line x1="1185.3" y1="450.1" x2="1213.9" y2="459.8" stroke="#8e8e88" stroke-width="0.9" opacity="0.85"/><line x1="1190.4" y1="464.0" x2="1219.0" y2="473.6" stroke="#8e8e88" stroke-width="0.9" opacity="0.85"/><line x1="1195.5" y1="477.8" x2="1224.1" y2="487.4" stroke="#8e8e88" stroke-width="0.9" opacity="0.85"/><line x1="1200.6" y1="491.6" x2="1229.2" y2="501.2" stroke="#8e8e88" stroke-width="0.9" opacity="0.85"/><line x1="1205.7" y1="505.4" x2="1234.3" y2="515.0" stroke="#8e8e88" stroke-width="0.9" opacity="0.85"/><line x1="1210.8" y1="519.2" x2="1239.4" y2="528.8" stroke="#8e8e88" stroke-width="0.9" opacity="0.85"/><line x1="1215.9" y1="533.0" x2="1244.5" y2="542.6" stroke="#8e8e88" stroke-width="0.9" opacity="0.85"/><line x1="1065.7" y1="425.6" x2="1118.7" y2="569.2" stroke="#5e5e58" stroke-width="1.6" opacity="0.85"/><line x1="1067.0" y1="425.2" x2="1120.0" y2="568.8" stroke="#f4f4f0" stroke-width="1.0" opacity="0.9"/><line x1="1088.8" y1="416.4" x2="1141.8" y2="560.0" stroke="#5e5e58" stroke-width="1.6" opacity="0.85"/><line x1="1090.1" y1="416.0" x2="1143.1" y2="559.6" stroke="#f4f4f0" stroke-width="1.0" opacity="0.9"/><line x1="1113.9" y1="406.5" x2="1167.0" y2="550.1" stroke="#5e5e58" stroke-width="1.6" opacity="0.85"/><line x1="1115.2" y1="406.1" x2="1168.3" y2="549.7" stroke="#f4f4f0" stroke-width="1.0" opacity="0.9"/><line x1="1137.7" y1="397.1" x2="1190.8" y2="540.7" stroke="#5e5e58" stroke-width="1.6" opacity="0.85"/><line x1="1139.0" y1="396.7" x2="1192.0" y2="540.3" stroke="#f4f4f0" stroke-width="1.0" opacity="0.9"/><line x1="1162.2" y1="387.5" x2="1215.2" y2="531.1" stroke="#5e5e58" stroke-width="1.6" opacity="0.85"/><line x1="1163.5" y1="387.1" x2="1216.5" y2="530.7" stroke="#f4f4f0" stroke-width="1.0" opacity="0.9"/></g><path d="M1055,432.5 L1182,382.5 Q1186,381 1187.5,385 L1237,508 Q1238.5,512 1234.5,513.7 L1107,570.5 Q1103,572 1101.5,568 L1052,438.5 Q1050.8,434.2 1055,432.5 Z" fill="none" stroke="#b0b0ac" stroke-width="0.8"/><polygon points="932.3,501.6 1080.7,500.1 1087.4,549.1 933.7,551.3" fill="#c3c3bf" filter="url(#stoneL)"/><g clip-path="url(#cPF)"><path d="M936,552 L936,522 Q936,506 951,506 Q966,506 966,522 L966,552 Z" fill="#b0b0ac" opacity="0.75"/><path d="M973,552 L973,522 Q973,506 990,506 Q1007,506 1007,522 L1007,552 Z" fill="#b0b0ac" opacity="0.75"/><path d="M1014,552 L1014,522 Q1014,506 1029,506 Q1044,506 1044,522 L1044,552 Z" fill="#b0b0ac" opacity="0.75"/><path d="M1053,552 L1053,522 Q1053,506 1067,506 Q1081,506 1081,522 L1081,552 Z" fill="#b0b0ac" opacity="0.75"/><rect x="967.1999999999999" y="508" width="4.4" height="44" fill="#d6d6d2"/><path d="M961.4,501 L969.4,514 L977.4,501" stroke="#8c8c88" stroke-width="1.4" fill="none"/><line x1="967.0" y1="510" x2="967.0" y2="552" stroke="#8a8a86" stroke-width="0.7"/><rect x="1007.3" y="508" width="4.4" height="44" fill="#d6d6d2"/><path d="M1001.5,501 L1009.5,514 L1017.5,501" stroke="#8c8c88" stroke-width="1.4" fill="none"/><line x1="1007.1" y1="510" x2="1007.1" y2="552" stroke="#8a8a86" stroke-width="0.7"/><rect x="1046.3" y="508" width="4.4" height="44" fill="#d6d6d2"/><path d="M1040.5,501 L1048.5,514 L1056.5,501" stroke="#8c8c88" stroke-width="1.4" fill="none"/><line x1="1046.1" y1="510" x2="1046.1" y2="552" stroke="#8a8a86" stroke-width="0.7"/><rect x="933" y="541" width="155" height="10" fill="#b6b6b2" opacity="0.6"/><polygon points="1021.3,501 1037.7,501 1037.7,530 1029.5,537 1021.3,530" fill="#ececea" stroke="#8a8a86" stroke-width="0.8"/><rect x="1027.5" y="508" width="4" height="18" fill="#b0b0ac"/><rect x="947" y="511" width="7" height="13.5" fill="#f0f0ee"/><rect x="945" y="524" width="11" height="3" fill="#77776f"/><rect x="1063" y="510" width="7" height="13" fill="#f0f0ee"/><rect x="1061" y="523" width="11" height="3" fill="#77776f"/></g><polygon points="932.3,501.6 1080.7,500.1 1087.4,549.1 933.7,551.3" fill="none" stroke="#9a9a96" stroke-width="0.8"/><path d="M932.3,501.6 L1080.7,500.1" stroke="#ecece8" stroke-width="1.2"/></g><use href="#catSh" x="217.1" y="668.0"/><use href="#catSh" x="122.6" y="702.4"/><use href="#catSh" x="303.1" y="717.9"/><use href="#catSh" x="208.6" y="733.4"/><use href="#cat" x="217.1" y="668.0"/><use href="#cat" x="122.6" y="702.4"/><use href="#cat" x="303.1" y="717.9"/><use href="#cat" x="208.6" y="733.4"/><use href="#balA"/><use href="#balB"/><use href="#balA" x="144" y="-1"/><use href="#balB" x="130.5" y="19"/><use href="#meeple" x="631" y="797"/><use href="#ram"/><use href="#ram" x="166.5" y="9.5"/><use href="#meeple" x="1049" y="806"/>
</svg>
<div class="lab" id="lab0" style="left:41px;top:302.8px;letter-spacing:-0.30px"><span class="d6">6</span> Castle Walls</div><div class="dots" style="left:40px;top:336.0px;width:158px"></div><div class="lab" id="lab1" style="left:736px;top:350.9px;letter-spacing:-0.12px"><span class="d4">4</span> Castle Towers</div><div class="dots" style="left:735px;top:382.8px;width:193px"></div><div class="lab" id="lab2" style="left:41.5px;top:546.9px;letter-spacing:-0.09px"><span class="d1">1</span> Castle Gate</div><div class="lab" id="lab3" style="left:41.5px;top:567.3px;letter-spacing:-0.20px">+ Drawbridge</div><div class="dots" style="left:40px;top:597.6px;width:152px"></div><div class="lab" id="lab4" style="left:468.5px;top:565.9px;letter-spacing:0.11px"><span class="d2">2</span> Thrones + <span class="d1">1</span> Table</div><div class="dots" style="left:466.5px;top:595.8px;width:172.0px"></div><div class="lab" id="lab5" style="left:858px;top:570.6px;letter-spacing:0.16px"><span class="d1">1</span> Royal Hall + Roof</div><div class="dots" style="left:856.5px;top:600.8px;width:171.5px"></div><div class="lab" id="lab6" style="left:41px;top:793.0px;letter-spacing:0.06px"><span class="d4">4</span> Catapults</div><div class="dots" style="left:40px;top:823.2px;width:171px"></div><div class="lab" id="lab7" style="left:468px;top:793.0px;letter-spacing:-0.32px"><span class="d4">4</span> Ballista</div><div class="dots" style="left:466.5px;top:823.2px;width:171.5px"></div><div class="lab" id="lab8" style="left:858px;top:793.0px;letter-spacing:0.27px"><span class="d2">2</span> Battering-ram</div><div class="dots" style="left:856.5px;top:823.2px;width:172.5px"></div>
</body></html>
